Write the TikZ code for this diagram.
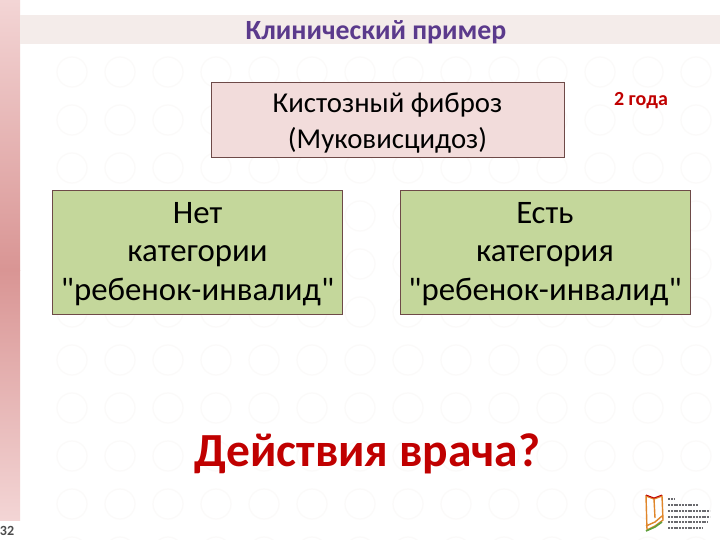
\documentclass[tikz,border=0pt]{standalone}
\usepackage{fontspec}
\setmainfont{Carlito}[Ligatures=TeXOff]
\definecolor{titlecol}{HTML}{5B3A8C}
\definecolor{pinkbox}{HTML}{F2DCDB}
\definecolor{greenbox}{HTML}{C4D79B}
\definecolor{boxedge}{HTML}{6E4A48}
\definecolor{ringcol}{HTML}{FBFAF9}
\definecolor{alertred}{HTML}{C00000}
\definecolor{bandcol}{HTML}{F4ECEA}
\definecolor{sidetop}{HTML}{F3D5D5}
\definecolor{sidemid}{HTML}{D99594}
\definecolor{sidelow}{HTML}{F3D5D5}
\definecolor{logoorange}{HTML}{E0862A}
\definecolor{logogreen}{HTML}{5FA03C}
\definecolor{logotext}{HTML}{6A6A6E}
\tikzset{
  pinkstyle/.style={draw=boxedge,line width=0.9pt,fill=pinkbox,inner sep=0pt,minimum width=353pt,minimum height=75pt},
  greenstyle/.style={draw=boxedge,line width=0.9pt,fill=greenbox,inner sep=0pt,minimum width=290pt,minimum height=124pt},
  pinktext/.style={align=center,inner sep=0pt,text=black,font=\fontsize{28.8}{36}\selectfont},
  greentext/.style={align=center,inner sep=0pt,text=black,font=\fontsize{32.8}{38.5}\selectfont},
  ring/.style={ringcol,line width=1.2pt},
  logoline/.style={logotext,line width=2.2pt,dash pattern=on 2pt off 0.8pt},
}
\begin{document}
\begin{tikzpicture}[x=1pt,y=-1pt]
\useasboundingbox (0,0) rectangle (720,540);
\fill[white] (0,0) rectangle (720,540);
% faint background rings
\foreach \i in {0,...,14}{\foreach \j in {0,...,10}{
  \draw[ring] (72+48*\i,72+48*\j) circle (15);
}}
% sidebar
\shade[top color=sidetop,bottom color=sidemid] (0,0) rectangle (20,270);
\shade[top color=sidemid,bottom color=sidelow] (0,270) rectangle (20,520);
% title band
\fill[bandcol] (20,15) rectangle (720,44);
\node[text=titlecol,font=\fontsize{27.8}{32}\selectfont\bfseries] (title) at (376,32) {Клинический пример};
% boxes
\node[pinkstyle] (disease) at (387.5,119.5) {};
\node[pinktext] (diseasetext) at (387.5,123) {Кистозный фиброз\\(Муковисцидоз)};
\node[greenstyle] (no) at (197.5,252) {};
\node[greentext] (notext) at (197.5,254) {Нет\\категории\\"ребенок-инвалид"};
\node[greenstyle] (yes) at (545,252) {};
\node[greentext] (yestext) at (545,254) {Есть\\категория\\"ребенок-инвалид"};
\node[text=alertred,font=\fontsize{20}{24}\selectfont\bfseries] (age) at (641,101) {2 года};
\node[text=alertred,font=\fontsize{47.5}{56}\selectfont\bfseries] (question) at (367.5,454) {Действия врача?};
\node[text=black!70,font=\fontsize{14}{16}\selectfont\bfseries] (page) at (7,531) {32};
% logo
\draw[logoorange,line width=1.4pt,fill=white] (646,496) -- (654,499) -- (662,496) -- (663,520) -- (655,526) -- (647,530) -- cycle;
\draw[logoorange,line width=1.4pt] (654,499) -- (655,518);
\draw[logogreen,line width=1.6pt] (646,531) -- (655,527) -- (662,522);
\draw[logoorange,line width=1.4pt] (646,526) -- (655,522) -- (662,516);
\draw[alertred,line width=1pt] (646,495) -- (654,498) -- (662,495);
\foreach \yy/\xx in {499/6,505/30,511/42,517/42,522/40,528/34}{
  \draw[logoline] (668,\yy) -- ++(\xx,0);
}
\end{tikzpicture}
\end{document}
